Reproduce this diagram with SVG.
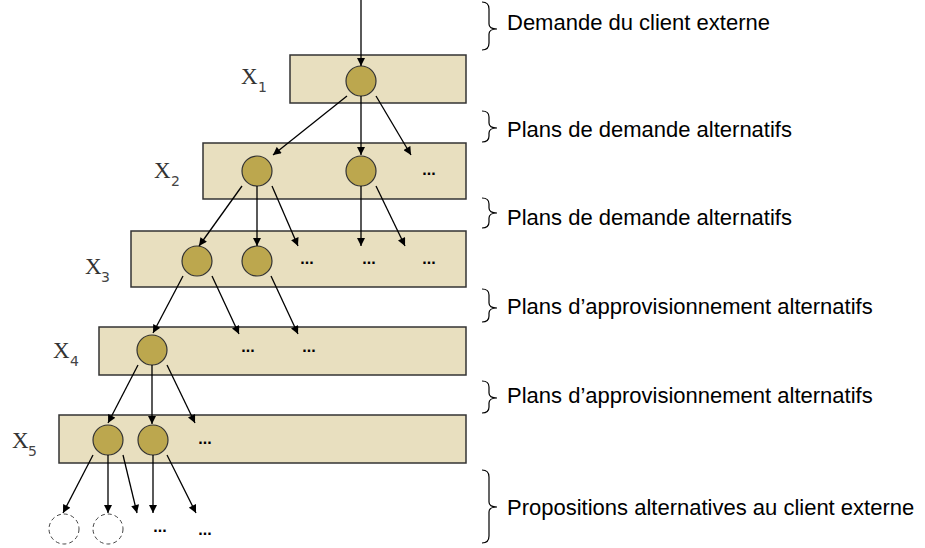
<svg xmlns="http://www.w3.org/2000/svg" width="925" height="548" viewBox="0 0 925 548">
<defs>
<marker id="ah" viewBox="0 0 10 10" refX="10" refY="5" markerWidth="9" markerHeight="8" markerUnits="userSpaceOnUse" orient="auto">
<path d="M0,0 L10,5 L0,10 z" fill="#000"/>
</marker>
</defs>
<style>
.lvl{fill:#E8DFBF;stroke:#333;stroke-width:1.5}
.nd{fill:#BCA74E;stroke:#333;stroke-width:1.2}
.dn{fill:none;stroke:#444;stroke-width:1;stroke-dasharray:4 3}
.cn line{stroke:#000;stroke-width:1.3;marker-end:url(#ah)}
.lbl{font-family:"Liberation Sans",Arial,sans-serif;font-size:22px;fill:#000}
.br{fill:none;stroke:#000;stroke-width:1.2}
.x{font-family:"Liberation Serif","Times New Roman",serif;font-size:23px;fill:#333}
.sub{font-family:"DejaVu Sans","Liberation Sans",sans-serif;font-size:14px;fill:#444}
.dots{font-family:"Liberation Sans",Arial,sans-serif;font-size:16px;font-weight:bold;fill:#000;text-anchor:middle}
</style>

<g id="level1">
<rect class="lvl" x="290" y="55" width="176" height="48"/>
<text class="x" x="241" y="84">X</text><text class="sub" x="258" y="92">1</text>
</g>
<g id="level2">
<rect class="lvl" x="203" y="143" width="263" height="56"/>
<text class="x" x="154" y="178">X</text><text class="sub" x="171" y="186">2</text>
</g>
<g id="level3">
<rect class="lvl" x="131" y="231" width="335" height="56"/>
<text class="x" x="85" y="274">X</text><text class="sub" x="101" y="282">3</text>
</g>
<g id="level4">
<rect class="lvl" x="99" y="327" width="367" height="48"/>
<text class="x" x="53" y="358">X</text><text class="sub" x="70" y="366">4</text>
</g>
<g id="level5">
<rect class="lvl" x="59" y="415" width="407" height="48"/>
<text class="x" x="12" y="448">X</text><text class="sub" x="28" y="456">5</text>
</g>

<g id="n1"><circle class="nd" cx="361" cy="81" r="15"/></g>
<g id="n21"><circle class="nd" cx="257" cy="171" r="15"/></g>
<g id="n22"><circle class="nd" cx="361" cy="171" r="15"/></g>
<g id="n31"><circle class="nd" cx="197" cy="261" r="15"/></g>
<g id="n32"><circle class="nd" cx="257" cy="261" r="15"/></g>
<g id="n4"><circle class="nd" cx="152" cy="350" r="15"/></g>
<g id="n51"><circle class="nd" cx="108" cy="440" r="15"/></g>
<g id="n52"><circle class="nd" cx="153" cy="440" r="15"/></g>
<g id="d1"><circle class="dn" cx="64" cy="529" r="15"/></g>
<g id="d2"><circle class="dn" cx="108" cy="529" r="15"/></g>

<g id="ellipses">
<text class="dots" x="429" y="175">...</text>
<text class="dots" x="307" y="264">...</text>
<text class="dots" x="369" y="264">...</text>
<text class="dots" x="429" y="264">...</text>
<text class="dots" x="248" y="352">...</text>
<text class="dots" x="309" y="352">...</text>
<text class="dots" x="205" y="444">...</text>
<text class="dots" x="160" y="532">...</text>
<text class="dots" x="205" y="535">...</text>
</g>

<g id="connectors" class="cn">
<line x1="361" y1="0" x2="361" y2="66"/>
<line x1="347" y1="96" x2="273" y2="155"/>
<line x1="361" y1="96" x2="361" y2="155"/>
<line x1="376" y1="96" x2="411" y2="155"/>
<line x1="242" y1="186" x2="199" y2="246"/>
<line x1="257" y1="186" x2="257" y2="246"/>
<line x1="272" y1="186" x2="298" y2="246"/>
<line x1="361" y1="186" x2="361" y2="246"/>
<line x1="376" y1="186" x2="405" y2="246"/>
<line x1="183" y1="276" x2="153" y2="333"/>
<line x1="212" y1="276" x2="239" y2="334"/>
<line x1="271" y1="276" x2="298" y2="334"/>
<line x1="138" y1="365" x2="108" y2="423"/>
<line x1="152" y1="365" x2="152" y2="424"/>
<line x1="167" y1="365" x2="195" y2="423"/>
<line x1="93" y1="455" x2="63" y2="513"/>
<line x1="108" y1="455" x2="108" y2="513"/>
<line x1="123" y1="455" x2="137" y2="513"/>
<line x1="153" y1="455" x2="153" y2="513"/>
<line x1="167" y1="455" x2="196" y2="513"/>
</g>

<g id="annotations">
<path class="br" d="M482,2 Q489,2 489,9 L489,24 Q489,29 497,29 Q489,29 489,34 L489,43 Q489,50 482,50"/>
<text class="lbl" x="507" y="30">Demande du client externe</text>
<path class="br" d="M482,111 Q489,111 489,117 L489,123 Q489,128 497,128 Q489,128 489,133 L489,136 Q489,142 482,142"/>
<text class="lbl" x="507" y="137">Plans de demande alternatifs</text>
<path class="br" d="M482,198 Q489,198 489,204 L489,208 Q489,213 497,213 Q489,213 489,218 L489,222 Q489,228 482,228"/>
<text class="lbl" x="507" y="225">Plans de demande alternatifs</text>
<path class="br" d="M482,289 Q489,289 489,295 L489,303 Q489,308 497,308 Q489,308 489,313 L489,316 Q489,322 482,322"/>
<text class="lbl" x="507" y="314">Plans d’approvisionnement alternatifs</text>
<path class="br" d="M482,381 Q489,381 489,387 L489,393 Q489,398 497,398 Q489,398 489,403 L489,407 Q489,413 482,413"/>
<text class="lbl" x="507" y="403">Plans d’approvisionnement alternatifs</text>
<path class="br" d="M482,470 Q489,470 489,477 L489,502 Q489,507 497,507 Q489,507 489,512 L489,536 Q489,543 482,543"/>
<text class="lbl" x="507" y="515">Propositions alternatives au client externe</text>
</g>
</svg>
